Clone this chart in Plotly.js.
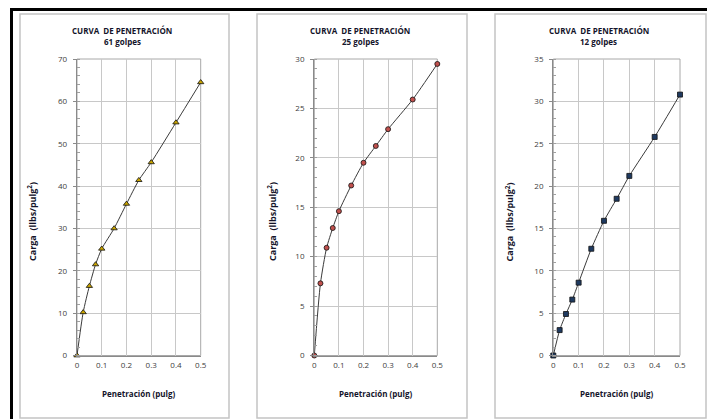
<!DOCTYPE html>
<html>
<head>
<meta charset="utf-8">
<script src="https://cdn.plot.ly/plotly-3.0.1.min.js"></script>
<style>html,body{margin:0;padding:0;background:#fff}#chart{width:707px;height:419px}</style>
</head>
<body>
<div id="chart"></div>
<script>
// Data
var penetracion = [0, 0.025, 0.05, 0.075, 0.1, 0.15, 0.2, 0.25, 0.3, 0.4, 0.5];
var carga61 = [0, 10.2, 16.4, 21.5, 25.2, 30.0, 35.8, 41.4, 45.6, 55.0, 64.5];
var carga25 = [0, 7.3, 10.9, 12.9, 14.6, 17.2, 19.5, 21.2, 22.9, 25.9, 29.5];
var carga12 = [0, 3.0, 4.9, 6.6, 8.6, 12.6, 15.9, 18.5, 21.2, 25.8, 30.8];
var golpes = ['61 golpes', '25 golpes', '12 golpes'];
var chartTitle = 'CURVA  DE PENETRACIÓN';
var xTitle = 'Penetración (pulg)';
var yTitle = 'Carga  (llbs/pulg<sup>2</sup>)';
var xTicks = [0, 0.1, 0.2, 0.3, 0.4, 0.5];
var xTickText = ['0', '0.1', '0.2', '0.3', '0.4', '0.5'];

var W = 707, H = 419;
var lineCol = '#3a3a3a';
var tickFont = {family: 'Open Sans, sans-serif', size: 8, color: '#404040'};
var boldFont = {family: 'Open Sans, sans-serif', size: 8, color: '#14142a', weight: 'bold'};

function px(x) { return x / W; }
function py(y) { return 1 - y / H; }

var panels = [
  {y: carga61, sym: 'triangle-up', fill: '#c9a400', range: [0, 70], dtick: 10, minor: 2, px0: 77, px1: 200.7, box: [20, 229], ytx: 32},
  {y: carga25, sym: 'circle', fill: '#c0504d', range: [0, 30], dtick: 5, minor: 1, px0: 314.3, px1: 437.3, box: [257, 467], ytx: 272},
  {y: carga12, sym: 'square', fill: '#1f3a60', range: [0, 35], dtick: 5, minor: 1, px0: 553.3, px1: 680, box: [495, 706], ytx: 509.5}
];

var data = [];
var layout = {
  width: W, height: H,
  margin: {l: 0, r: 0, t: 0, b: 0},
  paper_bgcolor: '#ffffff', plot_bgcolor: '#ffffff',
  showlegend: false,
  shapes: [], annotations: []
};

var yTop = 59, yBot = 355.5;

panels.forEach(function (p, i) {
  var n = i + 1;
  var xa = 'x' + (n === 1 ? '' : n), ya = 'y' + (n === 1 ? '' : n);
  data.push({
    x: penetracion, y: p.y, xaxis: xa, yaxis: ya,
    type: 'scatter', mode: 'lines+markers', cliponaxis: false,
    line: {color: lineCol, width: 1, shape: 'spline', smoothing: 0.6},
    marker: {symbol: p.sym, size: p.sym === 'triangle-up' ? 5.5 : 5, color: p.fill, line: {color: '#111', width: 0.8}}
  });
  var xKey = 'xaxis' + (n === 1 ? '' : n), yKey = 'yaxis' + (n === 1 ? '' : n);
  layout[xKey] = {
    domain: [px(p.px0), px(p.px1)], anchor: ya, range: [0, 0.5],
    tickvals: xTicks, ticktext: xTickText, tickfont: tickFont,
    showgrid: true, gridcolor: '#c8c8c8', gridwidth: 1,
    showline: true, linecolor: '#8a8a8a', linewidth: 1.2, mirror: false,
    ticks: '', zeroline: false, fixedrange: true, ticklabelstandoff: 2
  };
  layout[yKey] = {
    domain: [py(yBot), py(yTop)], anchor: xa, range: p.range,
    dtick: p.dtick, tick0: 0, tickfont: tickFont,
    showgrid: true, gridcolor: '#c8c8c8', gridwidth: 1,
    showline: true, linecolor: '#8a8a8a', linewidth: 1.2,
    ticks: 'outside', ticklen: 3, tickcolor: '#8a8a8a',
    minor: {dtick: p.minor, ticks: 'inside', ticklen: 3, tickcolor: '#a0a0a0', showgrid: false},
    zeroline: false, fixedrange: true, ticklabelstandoff: 4
  };
  layout.shapes.push({type: 'rect', xref: 'paper', yref: 'paper',
    x0: px(p.px0), x1: px(p.px1), y0: py(yBot), y1: py(yTop),
    line: {color: '#a8a8a8', width: 1}, layer: 'below'});
  layout.shapes.push({type: 'rect', xref: 'paper', yref: 'paper',
    x0: px(p.box[0]), x1: px(p.box[1]), y0: py(418), y1: py(14),
    line: {color: '#c4c4c4', width: 1.5}});
  var cx = (p.box[0] + p.box[1]) / 2;
  layout.annotations.push({xref: 'paper', yref: 'paper', x: px(cx - 2), y: py(30), text: chartTitle,
    showarrow: false, font: boldFont, xanchor: 'center', yanchor: 'middle'});
  layout.annotations.push({xref: 'paper', yref: 'paper', x: px(cx - 2), y: py(42), text: golpes[i],
    showarrow: false, font: boldFont, xanchor: 'center', yanchor: 'middle'});
  layout.annotations.push({xref: 'paper', yref: 'paper', x: px((p.px0 + p.px1) / 2), y: py(393), text: xTitle,
    showarrow: false, font: boldFont, xanchor: 'center', yanchor: 'middle'});
  layout.annotations.push({xref: 'paper', yref: 'paper', x: px(p.ytx), y: py(222), text: yTitle,
    showarrow: false, font: {family: 'Open Sans, sans-serif', size: 9, color: '#14142a', weight: 'bold'},
    textangle: -90, xanchor: 'center', yanchor: 'middle'});
});

layout.shapes.push({type: 'line', xref: 'paper', yref: 'paper', x0: px(10), x1: 1, y0: py(9.5), y1: py(9.5), line: {color: '#000', width: 3}});
layout.shapes.push({type: 'line', xref: 'paper', yref: 'paper', x0: px(11.5), x1: px(11.5), y0: py(8), y1: 0, line: {color: '#000', width: 3}});

Plotly.newPlot('chart', data, layout, {displayModeBar: false, staticPlot: true});
</script>
</body>
</html>
